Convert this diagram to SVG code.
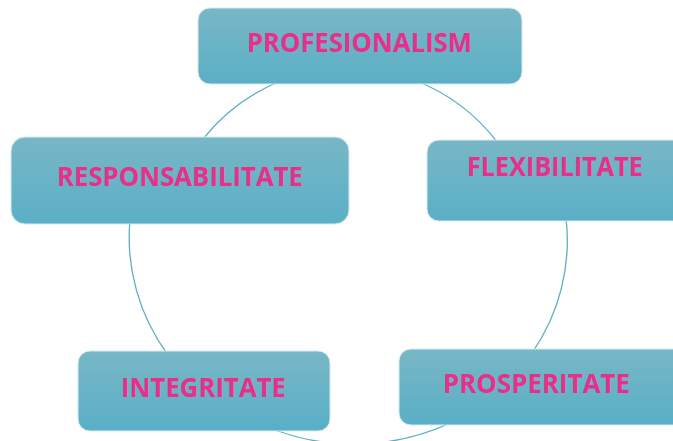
<svg xmlns="http://www.w3.org/2000/svg" width="673" height="441" viewBox="0 0 673 441">
<defs>
<linearGradient id="g" x1="0" y1="0" x2="0" y2="1">
<stop offset="0" stop-color="#78B7C6"/>
<stop offset="1" stop-color="#5AAFC6"/>
</linearGradient>
<style>
.box{fill:url(#g);stroke:#d6ecf2;stroke-width:1}
.lbl{font-family:"Open Sans","Noto Sans",sans-serif;font-weight:bold;font-size:26px;fill:#E8308A}
.arc{fill:none;stroke:#5BAFC4;stroke-width:1.3}
</style>
</defs>
<rect width="673" height="441" fill="#ffffff"/>
<g id="connectors">
<path class="arc" d="M283,80 A191,191 0 0 0 203,139"/>
<path class="arc" d="M414,80 A191,191 0 0 1 498,143"/>
<path class="arc" d="M130,220 A218,206 0 0 0 168,355"/>
<path class="arc" d="M566,218 A218,206 0 0 1 532,353"/>
<path class="arc" d="M275,430 A218,206 0 0 0 448,424"/>
</g>
<g id="n-profesionalism">
<rect class="box" x="198" y="8" width="324" height="76" rx="12"/>
<text class="lbl" x="247" y="52" textLength="225" lengthAdjust="spacingAndGlyphs">PROFESIONALISM</text>
</g>
<g id="n-responsabilitate">
<rect class="box" x="11" y="137" width="338" height="87" rx="14"/>
<text class="lbl" x="57" y="186" textLength="246" lengthAdjust="spacingAndGlyphs">RESPONSABILITATE</text>
</g>
<g id="n-flexibilitate">
<rect class="box" x="427" y="140" width="262" height="81" rx="12"/>
<text class="lbl" x="467" y="176" textLength="176" lengthAdjust="spacingAndGlyphs">FLEXIBILITATE</text>
</g>
<g id="n-integritate">
<rect class="box" x="78" y="351" width="252" height="80" rx="12"/>
<text class="lbl" x="121" y="397" textLength="165" lengthAdjust="spacingAndGlyphs">INTEGRITATE</text>
</g>
<g id="n-prosperitate">
<rect class="box" x="399" y="349" width="290" height="76" rx="12"/>
<text class="lbl" x="443" y="393" textLength="187" lengthAdjust="spacingAndGlyphs">PROSPERITATE</text>
</g>
</svg>
